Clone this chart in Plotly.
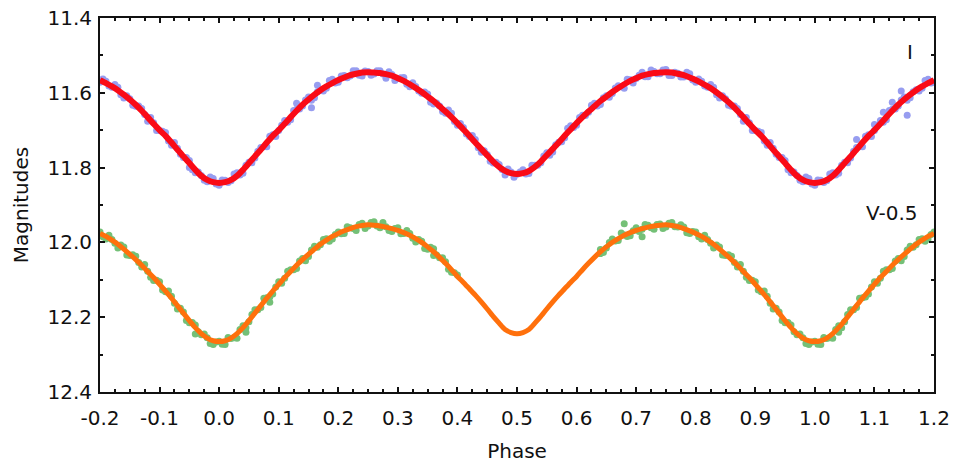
import plotly.graph_objects as go

# ---- data ----
phase = [round(-0.20 + 0.01 * i, 2) for i in range(141)]

i_fit = [11.566, 11.574, 11.583, 11.593, 11.605, 11.618, 11.632, 11.648, 11.665, 11.683,
         11.700, 11.715, 11.733, 11.752, 11.770, 11.788, 11.806, 11.822, 11.833, 11.839,
         11.841,
         11.839, 11.833, 11.822, 11.806, 11.788, 11.770, 11.752, 11.733, 11.715, 11.700,
         11.683, 11.665, 11.648, 11.632, 11.618, 11.605, 11.593, 11.583, 11.574, 11.566,
         11.559, 11.553, 11.549, 11.546, 11.545,
         11.546, 11.547, 11.550, 11.554, 11.561, 11.568, 11.577, 11.587, 11.598, 11.610,
         11.622, 11.636, 11.650, 11.665, 11.681, 11.698, 11.715, 11.733, 11.750, 11.767,
         11.784, 11.798, 11.809, 11.815, 11.817,
         11.815, 11.809, 11.798, 11.784, 11.767, 11.750, 11.733, 11.715, 11.698, 11.681,
         11.665, 11.650, 11.636, 11.622, 11.610, 11.598, 11.587, 11.577, 11.568, 11.561,
         11.554, 11.550, 11.547, 11.546, 11.545,
         11.546, 11.549, 11.553, 11.559, 11.566, 11.574, 11.583, 11.593, 11.605, 11.618,
         11.632, 11.648, 11.665, 11.683, 11.700, 11.715, 11.733, 11.752, 11.770, 11.788,
         11.806, 11.822, 11.833, 11.839, 11.841,
         11.839, 11.833, 11.822, 11.806, 11.788, 11.770, 11.752, 11.733, 11.715, 11.700,
         11.683, 11.665, 11.648, 11.632, 11.618, 11.605, 11.593, 11.583, 11.574, 11.566]

v_fit = [11.976, 11.984, 11.994, 12.005, 12.018, 12.032, 12.046, 12.061, 12.078, 12.094,
         12.112, 12.130, 12.149, 12.169, 12.189, 12.209, 12.228, 12.244, 12.256, 12.263,
         12.265,
         12.263, 12.256, 12.244, 12.228, 12.209, 12.189, 12.169, 12.149, 12.130, 12.112,
         12.094, 12.078, 12.061, 12.046, 12.032, 12.018, 12.005, 11.994, 11.984, 11.976,
         11.969, 11.963, 11.958, 11.955, 11.953,
         11.954, 11.956, 11.959, 11.963, 11.968, 11.974, 11.981, 11.990, 12.000, 12.012,
         12.025, 12.040, 12.056, 12.073, 12.091, 12.107, 12.124, 12.141, 12.159, 12.178,
         12.198, 12.216, 12.233, 12.241, 12.244,
         12.241, 12.233, 12.216, 12.198, 12.178, 12.159, 12.141, 12.124, 12.107, 12.091,
         12.073, 12.056, 12.040, 12.025, 12.012, 12.000, 11.990, 11.981, 11.974, 11.968,
         11.963, 11.959, 11.956, 11.954, 11.953,
         11.955, 11.958, 11.963, 11.969, 11.976, 11.984, 11.994, 12.005, 12.018, 12.032,
         12.046, 12.061, 12.078, 12.094, 12.112, 12.130, 12.149, 12.169, 12.189, 12.209,
         12.228, 12.244, 12.256, 12.263, 12.265,
         12.263, 12.256, 12.244, 12.228, 12.209, 12.189, 12.169, 12.149, 12.130, 12.112,
         12.094, 12.078, 12.061, 12.046, 12.032, 12.018, 12.005, 11.994, 11.984, 11.976]

# I-band observations, on whole-hundredth phases
i_obs_a = [11.572, 11.569, 11.585, 11.585, 11.614, 11.616, 11.636, 11.642, 11.676, 11.680,
           11.701, 11.706, 11.740, 11.748, 11.773, 11.781, 11.814, 11.821, 11.838, 11.829,
           11.847, 11.834, 11.835, 11.814, 11.815, 11.786, 11.774, 11.746, 11.744, 11.712,
           11.701, 11.674, 11.672, 11.644, 11.635, 11.611, 11.613, 11.592, 11.588, 11.564,
           11.572, 11.554, 11.555, 11.541, 11.555, 11.543, 11.550, 11.541, 11.561, 11.551,
           11.562, 11.559, 11.584, 11.583, 11.601, 11.603, 11.630, 11.635, 11.655, 11.655,
           11.687, 11.693, 11.717, 11.725, 11.759, 11.765, 11.788, 11.792, 11.820, 11.812,
           11.818, 11.806, 11.816, 11.794, 11.787, 11.760, 11.758, 11.732, 11.720, 11.688,
           11.687, 11.660, 11.652, 11.628, 11.631, 11.608, 11.602, 11.581, 11.588, 11.565,
           11.562, 11.545, 11.557, 11.543, 11.549, 11.538, 11.554, 11.548, 11.558, 11.549,
           11.572, 11.569, 11.585, 11.585, 11.614, 11.616, 11.636, 11.642, 11.676, 11.680,
           11.701, 11.706, 11.740, 11.748, 11.773, 11.781, 11.814, 11.821, 11.838, 11.829,
           11.847, 11.834, 11.835, 11.814, 11.815, 11.786, 11.774, 11.746, 11.744, 11.712,
           11.701, 11.674, 11.672, 11.644, 11.635, 11.611, 11.613, 11.592, 11.588, 11.564,
           11.572]
# I-band observations, on half-hundredth phases (-0.195 ... 1.195)
phase_b = [round(-0.195 + 0.01 * i, 3) for i in range(140)]
i_obs_b = [11.563, 11.582, 11.578, 11.605, 11.608, 11.633, 11.635, 11.658, 11.666, 11.701,
           11.703, 11.729, 11.733, 11.764, 11.773, 11.806, 11.812, 11.834, 11.825, 11.844,
           11.833, 11.840, 11.817, 11.820, 11.794, 11.787, 11.756, 11.744, 11.716, 11.717,
           11.687, 11.679, 11.647, 11.643, 11.619, 11.620, 11.597, 11.595, 11.567, 11.574,
           11.555, 11.560, 11.541, 11.553, 11.542, 11.553, 11.541, 11.550, 11.544, 11.567,
           11.560, 11.577, 11.573, 11.595, 11.598, 11.625, 11.627, 11.650, 11.646, 11.677,
           11.682, 11.710, 11.714, 11.747, 11.755, 11.783, 11.786, 11.805, 11.804, 11.826,
           11.812, 11.817, 11.794, 11.794, 11.769, 11.767, 11.739, 11.731, 11.695, 11.693,
           11.666, 11.661, 11.633, 11.635, 11.613, 11.612, 11.587, 11.584, 11.564, 11.574,
           11.553, 11.557, 11.539, 11.549, 11.539, 11.554, 11.545, 11.558, 11.545, 11.566,
           11.563, 11.582, 11.578, 11.605, 11.608, 11.633, 11.635, 11.658, 11.666, 11.701,
           11.703, 11.729, 11.733, 11.764, 11.773, 11.806, 11.812, 11.834, 11.825, 11.844,
           11.833, 11.840, 11.817, 11.820, 11.794, 11.787, 11.756, 11.744, 11.716, 11.717,
           11.687, 11.679, 11.647, 11.643, 11.619, 11.620, 11.597, 11.595, 11.567, 11.574]
# scattered I points
i_out_phase = [0.13, 0.155, -0.05, 1.115, 1.13, 1.145, 1.155, 1.10, 0.165, 1.07]
i_out_mag = [11.628, 11.640, 11.800, 11.652, 11.625, 11.595, 11.660, 11.685, 11.580, 11.725]

# V-0.5 observations (no coverage between phase 0.41 and 0.63)
v_phase_a = ([round(-0.20 + 0.01 * i, 2) for i in range(61)]
             + [round(0.64 + 0.01 * i, 2) for i in range(57)])
v_obs_a = [11.972, 11.991, 11.992, 12.015, 12.012, 12.035, 12.037, 12.066, 12.077, 12.102,
           12.105, 12.132, 12.144, 12.178, 12.186, 12.215, 12.221, 12.247, 12.255, 12.273,
           12.264, 12.273, 12.257, 12.256, 12.223, 12.212, 12.180, 12.174, 12.148, 12.138,
           12.105, 12.096, 12.073, 12.070, 12.043, 12.038, 12.010, 12.006, 11.990, 11.991,
           11.972, 11.976, 11.961, 11.968, 11.949, 11.956, 11.945, 11.961, 11.958, 11.971,
           11.961, 11.976, 11.976, 11.999, 11.997, 12.018, 12.017, 12.041, 12.052, 12.080,
           12.087,
           12.019, 12.015, 11.991, 11.995, 11.980, 11.982, 11.961, 11.965, 11.954, 11.965,
           11.951, 11.959, 11.947, 11.959, 11.959, 11.976, 11.972,
           11.991, 11.992, 12.015, 12.012, 12.035, 12.037, 12.066, 12.077, 12.102, 12.105,
           12.132, 12.144, 12.178, 12.186, 12.215, 12.221, 12.247, 12.255, 12.273, 12.264,
           12.273, 12.257, 12.256, 12.223, 12.212, 12.180, 12.174, 12.148, 12.138, 12.105,
           12.096, 12.073, 12.070, 12.043, 12.038, 12.010, 12.006, 11.990, 11.991, 11.972]
v_phase_b = ([round(-0.195 + 0.01 * i, 3) for i in range(60)]
             + [round(0.645 + 0.01 * i, 3) for i in range(56)])
v_obs_b = [11.985, 11.981, 12.002, 12.007, 12.034, 12.033, 12.054, 12.059, 12.093, 12.101,
           12.127, 12.130, 12.163, 12.176, 12.209, 12.214, 12.239, 12.245, 12.270, 12.266,
           12.272, 12.254, 12.255, 12.233, 12.228, 12.193, 12.180, 12.149, 12.146, 12.119,
           12.109, 12.077, 12.073, 12.050, 12.049, 12.020, 12.013, 11.992, 11.997, 11.979,
           11.977, 11.958, 11.963, 11.952, 11.963, 11.947, 11.956, 11.947, 11.968, 11.963,
           11.977, 11.968, 11.989, 11.992, 12.016, 12.013, 12.034, 12.041, 12.072, 12.081,
           12.027, 12.000, 11.996, 11.975, 11.984, 11.969, 11.971, 11.952, 11.961, 11.952,
           11.963, 11.949, 11.958, 11.953, 11.974, 11.971,
           11.985, 11.981, 12.002, 12.007, 12.034, 12.033, 12.054, 12.059, 12.093, 12.101,
           12.127, 12.130, 12.163, 12.176, 12.209, 12.214, 12.239, 12.245, 12.270, 12.266,
           12.272, 12.254, 12.255, 12.233, 12.228, 12.193, 12.180, 12.149, 12.146, 12.119,
           12.109, 12.077, 12.073, 12.050, 12.049, 12.020, 12.013, 11.992, 11.997, 11.979]
v_out_phase = [-0.04, 0.045, 0.085, 0.71, 0.64, 1.04, 0.68, 0.36]
v_out_mag = [12.245, 12.240, 12.160, 11.985, 12.030, 12.240, 11.950, 12.035]

x_ticks = [-0.2, -0.1, 0.0, 0.1, 0.2, 0.3, 0.4, 0.5, 0.6, 0.7, 0.8, 0.9, 1.0, 1.1, 1.2]
x_tick_text = ["-0.2", "-0.1", "0.0", "0.1", "0.2", "0.3", "0.4", "0.5", "0.6", "0.7",
               "0.8", "0.9", "1.0", "1.1", "1.2"]
y_ticks = [11.4, 11.6, 11.8, 12.0, 12.2, 12.4]
y_tick_text = ["11.4", "11.6", "11.8", "12.0", "12.2", "12.4"]
labels = ["I", "V-0.5"]
label_pos_x = [1.16, 1.129]
label_pos_y = [11.491, 11.921]

FONT = "DejaVu Sans, sans-serif"
INK = "#111111"
I_PT = "#979df0"
V_PT = "#74c077"

fig = go.Figure()
fig.add_trace(go.Scatter(x=phase + phase_b + i_out_phase, y=i_obs_a + i_obs_b + i_out_mag,
                         mode="markers", marker=dict(size=7, color=I_PT), showlegend=False))
fig.add_trace(go.Scatter(x=phase, y=i_fit, mode="lines",
                         line=dict(color="#fa0a16", width=6, shape="spline", smoothing=0.6),
                         showlegend=False))
fig.add_trace(go.Scatter(x=v_phase_a + v_phase_b + v_out_phase, y=v_obs_a + v_obs_b + v_out_mag,
                         mode="markers", marker=dict(size=7, color=V_PT), showlegend=False))
fig.add_trace(go.Scatter(x=phase, y=v_fit, mode="lines",
                         line=dict(color="#ff700c", width=5, shape="spline", smoothing=0.6),
                         showlegend=False))

for t, xx, yy in zip(labels, label_pos_x, label_pos_y):
    fig.add_annotation(x=xx, y=yy, text=t, showarrow=False,
                       font=dict(family=FONT, size=20, color=INK))

axis_common = dict(showline=True, linecolor=INK, linewidth=2, mirror="allticks",
                   ticks="inside", ticklen=5, tickwidth=1.5, tickcolor=INK,
                   showgrid=False, zeroline=False, automargin=False,
                   tickfont=dict(family=FONT, size=20, color=INK))

fig.update_layout(
    width=955, height=466,
    margin=dict(l=100, r=21, t=18, b=74),
    plot_bgcolor="white", paper_bgcolor="white",
    xaxis=dict(range=[-0.2, 1.2], tickvals=x_ticks, ticktext=x_tick_text,
               ticklabelstandoff=7,
               minor=dict(dtick=0.025, tick0=0, ticks="inside", ticklen=3, tickcolor=INK),
               title=dict(text="Phase", font=dict(family=FONT, size=20, color=INK), standoff=15),
               **axis_common),
    yaxis=dict(range=[12.4, 11.4], tickvals=y_ticks, ticktext=y_tick_text,
               ticklabelstandoff=2,
               minor=dict(dtick=0.1, tick0=11.4, ticks="inside", ticklen=3, tickcolor=INK),
               title=dict(text="Magnitudes", font=dict(family=FONT, size=20, color=INK), standoff=13),
               **axis_common),
)

fig.write_html("out.html", config={"displayModeBar": False},
               post_script="document.body.style.margin='0';")
